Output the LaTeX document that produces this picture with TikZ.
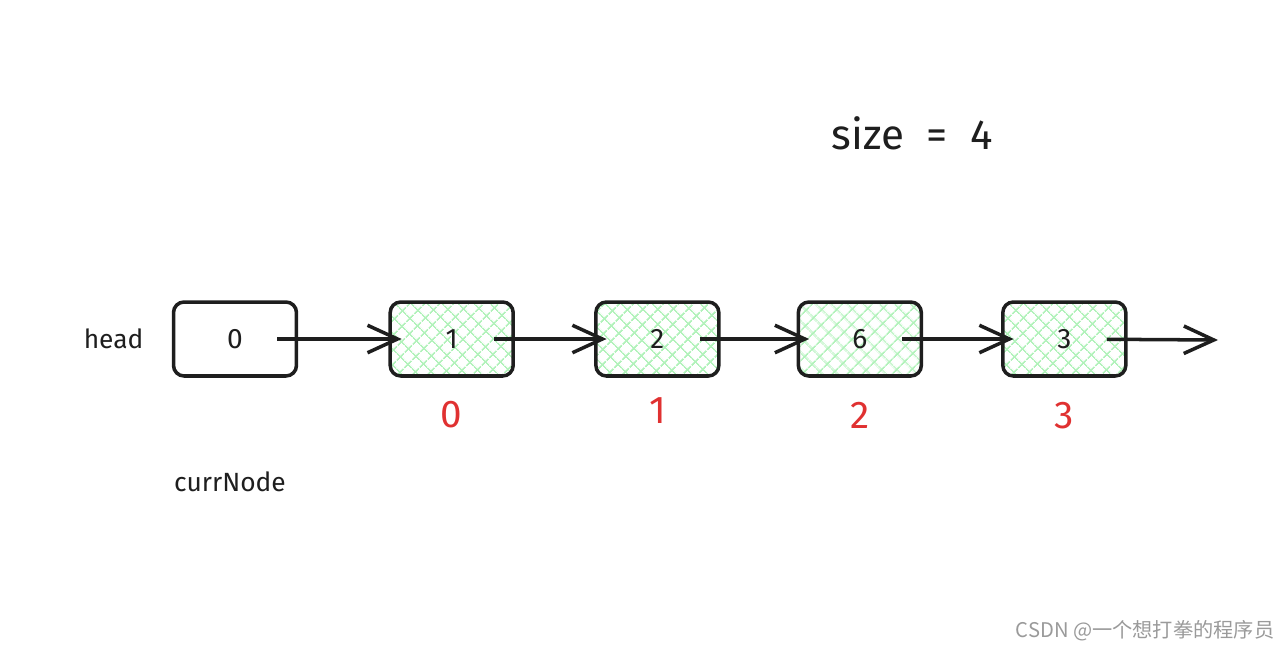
\documentclass[tikz,border=0pt]{standalone}
\usepackage{fontspec}
\setmainfont{Fira Sans}
\newfontfamily\cjkfont{Noto Sans CJK SC}
\usepackage{tikz}
\usetikzlibrary{arrows.meta, positioning, patterns.meta}
\usepackage{xcolor}
\definecolor{inkBlack}{HTML}{1E1E1E}
\definecolor{idxRed}{HTML}{E03131}
\definecolor{hatchGreen}{HTML}{B2F2BB}
\definecolor{markGray}{HTML}{9A9A9A}

\begin{document}
\begin{tikzpicture}[
    x=0.02cm, y=-0.02cm,
    cell/.style={rectangle, draw=inkBlack, line width=2pt, rounded corners=6pt, minimum width=2.46cm, minimum height=1.48cm, font=\fontsize{16}{18}\selectfont, text=inkBlack},
    filled/.style={cell, pattern={Hatch[angle=45, distance=6.5pt, line width=1.1pt]}, pattern color=hatchGreen},
    idx/.style={inner sep=0pt, font=\fontsize{22}{24}\selectfont, text=idxRed},
    lbl/.style={inner sep=0pt, font=\fontsize{15}{18}\selectfont, text=inkBlack},
    arrow/.style={-{Straight Barb[length=0.6cm, width=0.55cm]}, line width=2pt, draw=inkBlack, shorten <=0.85cm, shorten >=-0.25cm},
]
    \useasboundingbox (0,0) rectangle (1287,649);

    \node[cell] (n0) at (235,339) {0};
    \node[filled, right=1.82cm of n0] (n1) {1};
    \node[filled, right=1.60cm of n1] (n2) {2};
    \node[filled, right=1.52cm of n2] (n3) {6};
    \node[filled, right=1.56cm of n3] (n4) {3};
    \coordinate (tail) at (1218,340);

    \node[idx, below=0.48cm of n1] (i0) {0};
    \node[idx, below=0.40cm of n2] (i1) {1};
    \node[idx, below=0.48cm of n3] (i2) {2};
    \node[idx, below=0.48cm of n4] (i3) {3};

    \node[lbl, left=0.56cm of n0] (head) {head};
    \node[lbl] (curr) at (230,482) {currNode};
    \node[inner sep=0pt, font=\fontsize{24}{28}\selectfont, text=inkBlack] (size) at (912,133) {size\ \ =\ \ 4};
    \node[inner sep=0pt, font=\cjkfont\fontsize{11.5}{14}\selectfont, text=markGray] (mark) at (1145,631) {CSDN @一个想打拳的程序员};

    \draw[arrow] (n0.center) -- (n1.west);
    \draw[arrow] (n1.center) -- (n2.west);
    \draw[arrow] (n2.center) -- (n3.west);
    \draw[arrow] (n3.center) -- (n4.west);
    \draw[arrow, shorten >=0pt] (n4.center) -- (tail);
\end{tikzpicture}
\end{document}
